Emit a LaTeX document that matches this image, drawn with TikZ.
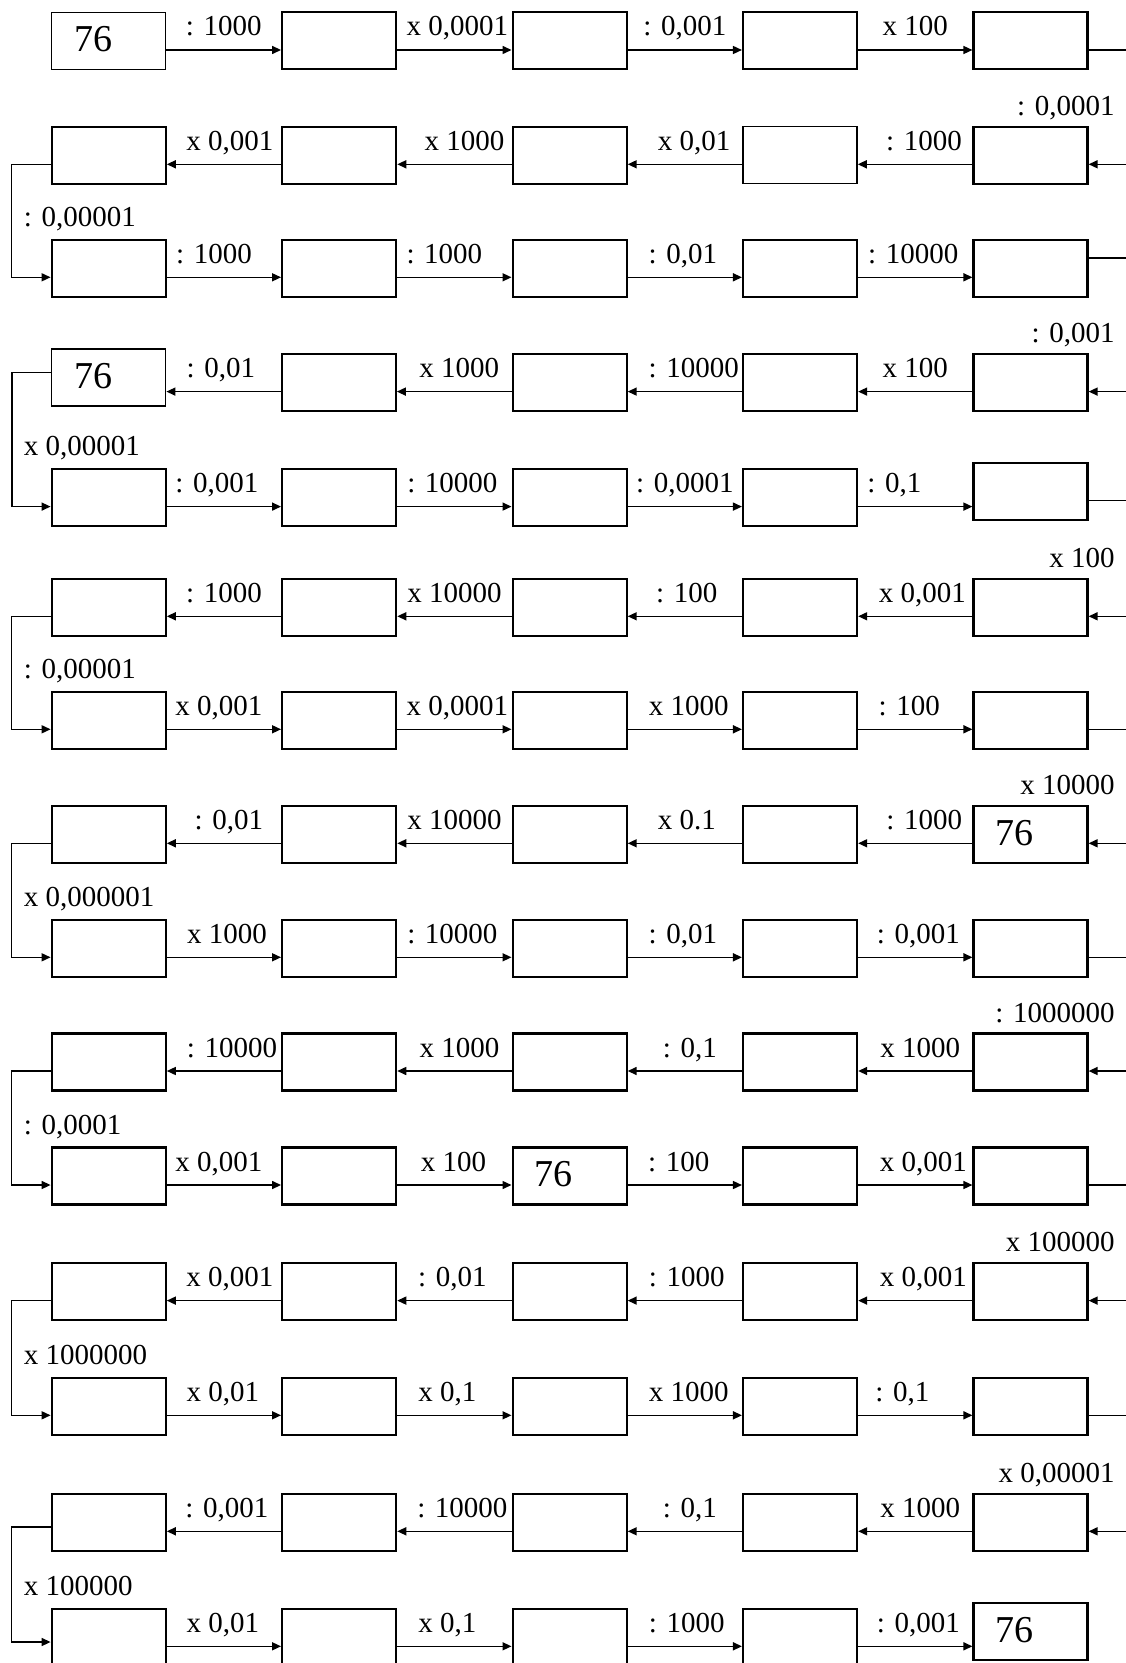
\documentclass[tikz,border=0pt]{standalone}
\usepackage{fontspec}
\setmainfont{Liberation Serif}
\usetikzlibrary{arrows.meta}

\tikzset{
  cell/.style={draw,line width=1.1pt,minimum width=57pt,minimum height=28.5pt,inner sep=0pt},
  thin frame/.style={line width=0.7pt},
  conv/.style={line width=0.75pt,-{Triangle[length=4.5pt,width=4pt]}},
  op/.style={font=\fontsize{14.5}{17}\selectfont,inner sep=0pt},
  on arrow/.style={op,anchor=base,yshift=7pt},
  given/.style={font=\fontsize{19}{22}\selectfont,inner sep=0pt,anchor=west},
  % boxes that differ from the rest
  cell 1-1/.style={thin frame},
  cell 2-4/.style={thin frame},
  cell 4-1/.style={thin frame,yshift=2.5pt},
  cell 4-2/.style={thin frame},
  cell 5-5/.style={yshift=3pt},
  cell 15-5/.style={yshift=2.7pt}
}

\begin{document}
\begin{tikzpicture}[x=0.5pt,y=-0.5pt]
\useasboundingbox (0,0) rectangle (1125,1663);

% the boxes
\foreach \row/\top in {1/11.7,2/126,3/239,4/353.3,5/468.3,6/578,7/691,8/805,9/919,10/1032.7,11/1146.7,12/1262.3,13/1377,14/1493,15/1608}
  \foreach \col in {1,...,5}
    \node[cell,cell \row-\col/.try] (r\row c\col) at ({108.7+230.45*(\col-1)},{\top+29.2}) {};

\foreach \n in {r1c1,r4c1,r8c5,r11c3,r15c5}
  \node[given] at ([xshift=11.5pt,yshift=0.8pt]\n.west) {76};

% rows to the right
\foreach \ca/\cb/\lab/\dx in {1/2/{: 1000}/0,2/3/{x 0,0001}/3,3/4/{: 0,001}/0,4/5/{x 100}/0}
  \draw[conv] ([yshift=-4.55pt]r1c\ca.east) coordinate (s) -- node[on arrow,xshift=\dx*0.5pt]{\lab} (s -| r1c\cb.west);
\foreach \ca/\cb/\lab/\dx in {1/2/{: 1000}/-10,2/3/{: 1000}/-10,3/4/{: 0,01}/-2,4/5/{: 10000}/-2}
  \draw[conv] ([yshift=-4.55pt]r3c\ca.east) coordinate (s) -- node[on arrow,xshift=\dx*0.5pt]{\lab} (s -| r3c\cb.west);
\foreach \ca/\cb/\lab/\dx in {1/2/{: 0,001}/-7,2/3/{: 10000}/-2,3/4/{: 0,0001}/0,4/5/{: 0,1}/-21}
  \draw[conv] ([yshift=-4.55pt]r5c\ca.east) coordinate (s) -- node[on arrow,xshift=\dx*0.5pt]{\lab} (s -| r5c\cb.west);
\foreach \ca/\cb/\lab/\dx in {1/2/{x 0,001}/-5,2/3/{x 0,0001}/3,3/4/{x 1000}/4,4/5/{: 100}/-6}
  \draw[conv] ([yshift=-4.55pt]r7c\ca.east) coordinate (s) -- node[on arrow,xshift=\dx*0.5pt]{\lab} (s -| r7c\cb.west);
\foreach \ca/\cb/\lab/\dx in {1/2/{x 1000}/3,2/3/{: 10000}/-2,3/4/{: 0,01}/-2,4/5/{: 0,001}/3}
  \draw[conv] ([yshift=-4.55pt]r9c\ca.east) coordinate (s) -- node[on arrow,xshift=\dx*0.5pt]{\lab} (s -| r9c\cb.west);
\foreach \ca/\cb/\lab/\dx in {1/2/{x 0,001}/-5,2/3/{x 100}/-1,3/4/{: 100}/-6,4/5/{x 0,001}/8}
  \draw[conv] ([yshift=-4.55pt]r11c\ca.east) coordinate (s) -- node[on arrow,xshift=\dx*0.5pt]{\lab} (s -| r11c\cb.west);
\foreach \ca/\cb/\lab/\dx in {1/2/{x 0,01}/-1,2/3/{x 0,1}/-7,3/4/{x 1000}/4,4/5/{: 0,1}/-13}
  \draw[conv] ([yshift=-4.55pt]r13c\ca.east) coordinate (s) -- node[on arrow,xshift=\dx*0.5pt]{\lab} (s -| r13c\cb.west);
\foreach \ca/\cb/\lab/\dx in {1/2/{x 0,01}/-1,2/3/{x 0,1}/-7,3/4/{: 1000}/2,4/5/{: 0,001}/3}
  \draw[conv] ([yshift=-4.55pt]r15c\ca.east) coordinate (s) -- node[on arrow,xshift=\dx*0.5pt]{\lab} (s -| r15c\cb.west);

% rows to the left
\foreach \ca/\cb/\lab/\dx in {1/2/{x 0,001}/6,2/3/{x 1000}/10,3/4/{x 0,01}/9,4/5/{: 1000}/9}
  \draw[conv] ([yshift=-4.55pt]r2c\cb.west) coordinate (s) -- node[on arrow,xshift=\dx*0.5pt]{\lab} (s -| r2c\ca.east);
\foreach \ca/\cb/\lab/\dx in {1/2/{: 0,01}/-3,2/3/{x 1000}/5,3/4/{: 10000}/9,4/5/{x 100}/0}
  \draw[conv] ([yshift=-4.55pt]r4c\cb.west) coordinate (s) -- node[on arrow,xshift=\dx*0.5pt]{\lab} (s -| r4c\ca.east);
\foreach \ca/\cb/\lab/\dx in {1/2/{: 1000}/0,2/3/{x 10000}/0,3/4/{: 100}/2,4/5/{x 0,001}/7}
  \draw[conv] ([yshift=-4.55pt]r6c\cb.west) coordinate (s) -- node[on arrow,xshift=\dx*0.5pt]{\lab} (s -| r6c\ca.east);
\foreach \ca/\cb/\lab/\dx in {1/2/{: 0,01}/5,2/3/{x 10000}/0,3/4/{x 0.1}/2,4/5/{: 1000}/9}
  \draw[conv] ([yshift=-4.55pt]r8c\cb.west) coordinate (s) -- node[on arrow,xshift=\dx*0.5pt]{\lab} (s -| r8c\ca.east);
\foreach \ca/\cb/\lab/\dx in {1/2/{: 10000}/8,2/3/{x 1000}/5,3/4/{: 0,1}/5,4/5/{x 1000}/5}
  \draw[conv] ([yshift=-4.55pt]r10c\cb.west) coordinate (s) -- node[on arrow,xshift=\dx*0.5pt]{\lab} (s -| r10c\ca.east);
\foreach \ca/\cb/\lab/\dx in {1/2/{x 0,001}/6,2/3/{: 0,01}/-2,3/4/{: 1000}/2,4/5/{x 0,001}/8}
  \draw[conv] ([yshift=-4.55pt]r12c\cb.west) coordinate (s) -- node[on arrow,xshift=\dx*0.5pt]{\lab} (s -| r12c\ca.east);
\foreach \ca/\cb/\lab/\dx in {1/2/{: 0,001}/3,2/3/{: 10000}/8,3/4/{: 0,1}/5,4/5/{x 1000}/5}
  \draw[conv] ([yshift=-4.55pt]r14c\cb.west) coordinate (s) -- node[on arrow,xshift=\dx*0.5pt]{\lab} (s -| r14c\ca.east);

% turns on the right (run off the page)
\foreach \row/\nxt/\lab/\ds in {1/2/{: 0,0001}/-4.55,3/4/{: 0,001}/5,5/6/{x 100}/-4.55,7/8/{x 10000}/-4.55,9/10/{: 1000000}/-4.55,11/12/{x 100000}/-4.55,13/14/{x 0,00001}/-4.55}{
  \draw[conv] ([yshift=\ds pt]r\row c5.east) -- ++(50,0) |- ([yshift=-4.55pt]r\nxt c5.east);
  \node[op,anchor=base east] at ([xshift=13.2pt,yshift=5pt]r\nxt c5.north east) {\lab};
}

% turns on the left
\foreach \row/\nxt/\lab/\ds/\de in {2/3/{: 0,00001}/-4.55/-4.55,4/5/{x 0,00001}/2.4/-4.55,6/7/{: 0,00001}/-4.55/-4.55,8/9/{x 0,000001}/-4.55/-4.55,10/11/{: 0,0001}/-4.55/-4.55,12/13/{x 1000000}/-4.55/-4.55,14/15/{x 100000}/-2.4/-2.4}{
  \draw[conv] ([yshift=\ds pt]r\row c1.west) -- ++(-39,0) |- ([yshift=\de pt]r\nxt c1.west);
  \node[op,anchor=base west] at ([xshift=-13.6pt,yshift=6pt]r\nxt c1.north west) {\lab};
}
\end{tikzpicture}
\end{document}
